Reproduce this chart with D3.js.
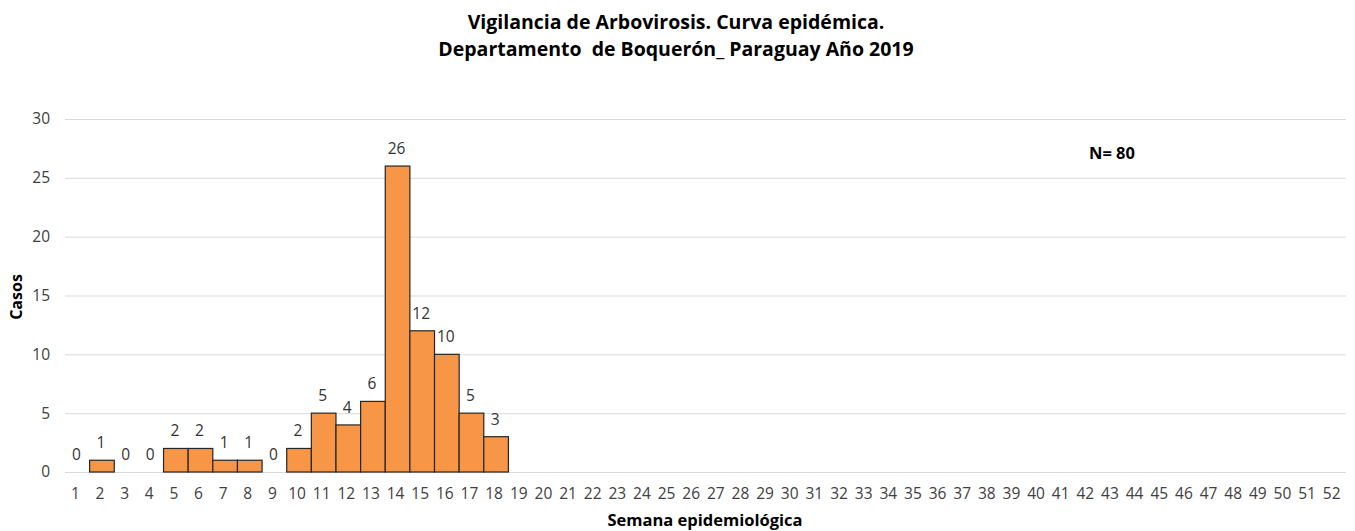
<!DOCTYPE html>
<html><head><meta charset="utf-8">
<script src="https://cdn.jsdelivr.net/npm/d3@7"></script>
<style>body{margin:0;background:#fff;} svg{display:block;}</style>
</head><body>
<svg id="c" width="1355" height="531"></svg>
<script>
const weeks = d3.range(1, 53).map(String);
const cases = [0,1,0,0,2,2,1,1,0,2,5,4,6,26,12,10,5,3];
const yTicks = [0,5,10,15,20,25,30];
const titleLines = ["Vigilancia de Arbovirosis. Curva epidémica.", "Departamento  de Boquerón_ Paraguay Año 2019"];
const xTitle = "Semana epidemiológica";
const yTitle = "Casos";
const note = "N= 80";

const svg = d3.select("#c");
const font = "'Open Sans', 'Noto Sans', sans-serif";
const m = {l:65, r:1346, t:119, b:472};
const x = d3.scaleBand().domain(weeks).range([m.l, m.r]).padding(0);
const y = d3.scaleLinear().domain([0,30]).range([m.b, m.t]);

svg.append("g").selectAll("line").data(yTicks).join("line")
  .attr("x1", m.l).attr("x2", m.r)
  .attr("y1", d=>y(d)+0.5).attr("y2", d=>y(d)+0.5)
  .attr("stroke", "#d9d9d9").attr("stroke-width", 1);

const yAxis = svg.append("g").attr("transform", `translate(${m.l},0)`)
  .call(d3.axisLeft(y).tickValues(yTicks).tickSize(0).tickPadding(15));
yAxis.select(".domain").remove();
yAxis.selectAll("text").attr("font-family", font).attr("font-size", 15.5).attr("fill", "#404040");

const xAxis = svg.append("g").attr("transform", `translate(0,${m.b})`)
  .call(d3.axisBottom(x).tickSize(0).tickPadding(16));
xAxis.select(".domain").remove();
xAxis.selectAll("text").attr("font-family", font).attr("font-size", 15.5).attr("fill", "#404040")
  .attr("dx", -2);

const data = cases.map((v,i)=>({w:weeks[i], v}));
svg.append("g").selectAll("rect").data(data.filter(d=>d.v>0)).join("rect")
  .attr("x", d=>x(d.w)).attr("width", x.bandwidth())
  .attr("y", d=>y(d.v)).attr("height", d=>y(0)-y(d.v))
  .attr("fill", "#F79646").attr("stroke", "#262626").attr("stroke-width", 1.2);

svg.append("g").selectAll("text").data(data).join("text")
  .attr("x", d=>x(d.w)+x.bandwidth()/2 - 1).attr("y", d=>y(d.v)-12)
  .attr("text-anchor", "middle").attr("font-family", font).attr("font-size", 15.5).attr("fill", "#333")
  .text(d=>d.v);

svg.append("g").selectAll("text").data(titleLines).join("text")
  .attr("x", 676).attr("y", (d,i)=>29+i*27).attr("text-anchor","middle")
  .style("white-space", "pre")
  .attr("font-family", font).attr("font-weight", "bold").attr("font-size", 19.5).attr("fill", "#000")
  .text(d=>d);

svg.append("text").attr("x", 1112).attr("y", 159).attr("text-anchor","middle")
  .attr("font-family", font).attr("font-weight","bold").attr("font-size", 16.5).attr("fill","#000").text(note);

svg.append("text").attr("transform", "translate(22,297) rotate(-90)").attr("text-anchor","middle")
  .attr("font-family", font).attr("font-weight","bold").attr("font-size", 16).attr("fill","#000").text(yTitle);

svg.append("text").attr("x", 705).attr("y", 526).attr("text-anchor","middle")
  .attr("font-family", font).attr("font-weight","bold").attr("font-size", 16.5).attr("fill","#000").text(xTitle);
</script>
</body></html>
